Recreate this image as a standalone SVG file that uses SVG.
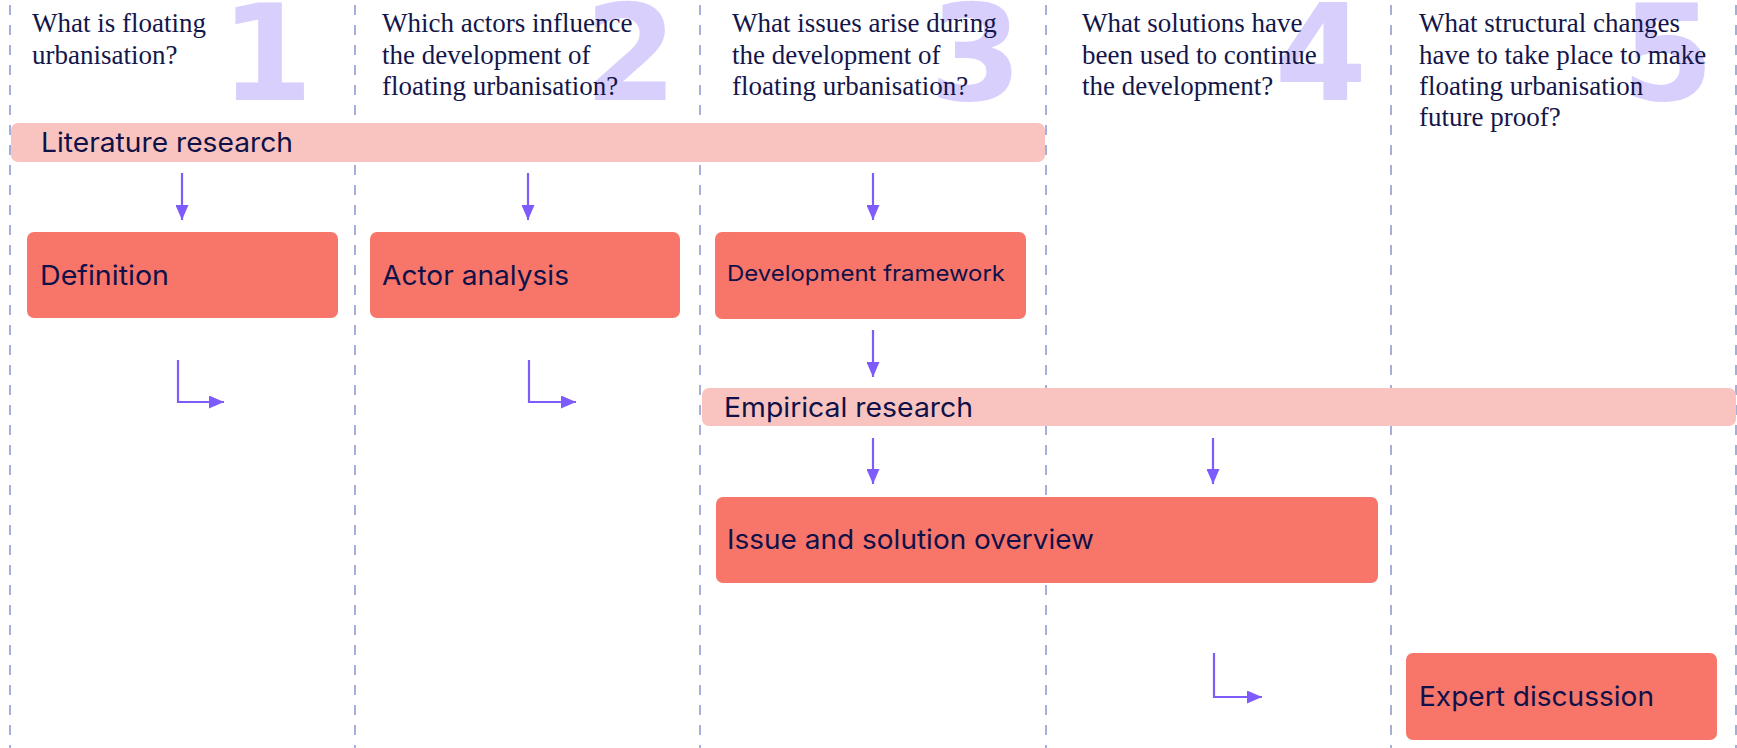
<svg xmlns="http://www.w3.org/2000/svg" width="1737" height="748" viewBox="0 0 1737 748">
<defs>
<style>
.bg{fill:#ffffff}
.col{stroke:#8f9bd2;stroke-width:1.6;stroke-dasharray:10 10;fill:none}
.num{font-family:"DejaVu Sans",sans-serif;font-weight:bold;font-size:133px;fill:#d9cffd;text-anchor:end}
.q{font-family:"Liberation Serif",serif;font-size:27px;fill:#14164a}
.bar{fill:#f9c4bf}
.box{fill:#f8756a}
.lbl{font-family:Inter,"Liberation Sans",sans-serif;font-size:27px;fill:#0f1148}
.lbl-s{font-family:Inter,"Liberation Sans",sans-serif;font-size:22px;fill:#0f1148}
.arr{stroke:#7d5cfb;stroke-width:2.2;fill:none;marker-end:url(#ah)}
</style>
<marker id="ah" markerUnits="userSpaceOnUse" markerWidth="16" markerHeight="13" refX="15" refY="6.5" orient="auto">
<path d="M0,0 L15,6.5 L0,13 z" fill="#7d5cfb"/>
</marker>
</defs>
<rect class="bg" x="0" y="0" width="1737" height="748"/>
<g id="columns">
<line class="col" x1="10" y1="5" x2="10" y2="748"/>
<line class="col" x1="355" y1="5" x2="355" y2="748"/>
<line class="col" x1="700" y1="5" x2="700" y2="748"/>
<line class="col" x1="1046" y1="5" x2="1046" y2="748"/>
<line class="col" x1="1391" y1="5" x2="1391" y2="748"/>
<line class="col" x1="1736" y1="5" x2="1736" y2="748"/>
</g>
<g id="numbers">
<text class="num" x="313" y="100">1</text>
<text class="num" x="677" y="100">2</text>
<text class="num" x="1022" y="100">3</text>
<text class="num" x="1367" y="100">4</text>
<text class="num" x="1714" y="100">5</text>
</g>
<g id="q1"><text class="q" x="32" y="32">What is floating</text><text class="q" x="32" y="63.5">urbanisation?</text></g>
<g id="q2"><text class="q" x="382" y="32">Which actors influence</text><text class="q" x="382" y="63.5">the development of</text><text class="q" x="382" y="95">floating urbanisation?</text></g>
<g id="q3"><text class="q" x="732" y="32">What issues arise during</text><text class="q" x="732" y="63.5">the development of</text><text class="q" x="732" y="95">floating urbanisation?</text></g>
<g id="q4"><text class="q" x="1082" y="32">What solutions have</text><text class="q" x="1082" y="63.5">been used to continue</text><text class="q" x="1082" y="95">the development?</text></g>
<g id="q5"><text class="q" x="1419" y="32">What structural changes</text><text class="q" x="1419" y="63.5">have to take place to make</text><text class="q" x="1419" y="95">floating urbanisation</text><text class="q" x="1419" y="126">future proof?</text></g>
<g id="literature-research">
<rect class="bar" x="11" y="123" width="1034" height="39" rx="7"/>
<text class="lbl" x="41" y="152" textLength="252" lengthAdjust="spacingAndGlyphs">Literature research</text>
</g>
<g id="definition">
<rect class="box" x="27" y="232" width="311" height="86" rx="7"/>
<text class="lbl" x="40" y="285" textLength="129" lengthAdjust="spacingAndGlyphs">Definition</text>
</g>
<g id="actor-analysis">
<rect class="box" x="370" y="232" width="310" height="86" rx="7"/>
<text class="lbl" x="382" y="285" textLength="187" lengthAdjust="spacingAndGlyphs">Actor analysis</text>
</g>
<g id="development-framework">
<rect class="box" x="715" y="232" width="311" height="87" rx="7"/>
<text class="lbl-s" x="727" y="281" textLength="278" lengthAdjust="spacingAndGlyphs">Development framework</text>
</g>
<g id="empirical-research">
<rect class="bar" x="702" y="388" width="1034" height="38" rx="7"/>
<text class="lbl" x="724" y="417" textLength="249" lengthAdjust="spacingAndGlyphs">Empirical research</text>
</g>
<g id="issue-solution-overview">
<rect class="box" x="716" y="497" width="662" height="86" rx="7"/>
<text class="lbl" x="727" y="549" textLength="367" lengthAdjust="spacingAndGlyphs">Issue and solution overview</text>
</g>
<g id="expert-discussion">
<rect class="box" x="1406" y="653" width="311" height="87" rx="7"/>
<text class="lbl" x="1419" y="706" textLength="235" lengthAdjust="spacingAndGlyphs">Expert discussion</text>
</g>
<g id="connectors">
<path class="arr" d="M182,173 V220"/>
<path class="arr" d="M528,173 V220"/>
<path class="arr" d="M873,173 V220"/>
<path class="arr" d="M873,330 V377"/>
<path class="arr" d="M873,438 V484"/>
<path class="arr" d="M1213,438 V484"/>
<path class="arr" d="M178,360 V402 H224"/>
<path class="arr" d="M529,360 V402 H576"/>
<path class="arr" d="M1214,653 V697 H1262"/>
</g>
</svg>
